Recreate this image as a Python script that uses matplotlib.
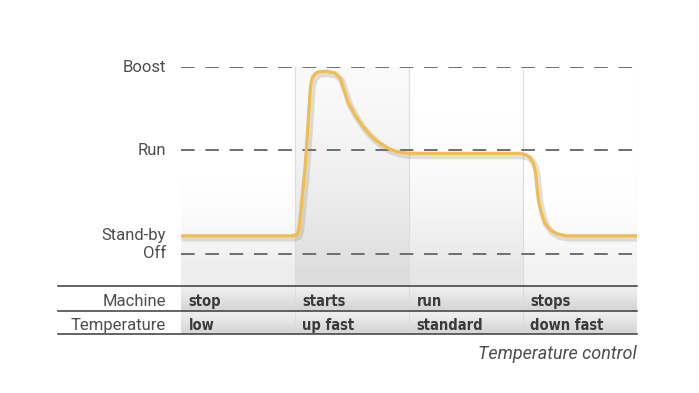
import numpy as np
import matplotlib.pyplot as plt
import matplotlib.patheffects as pe
from matplotlib import font_manager

# phases along the time axis (one column each)
phases = ["stop", "starts", "run", "stops"]
machine = ["stop", "starts", "run", "stops"]
temperature = ["low", "up fast", "standard", "down fast"]
row_labels = ["Machine", "Temperature"]

# temperature levels
level_names = ["Off", "Stand-by", "Run", "Boost"]
level_values = [0.0, 0.095, 0.554, 1.0]
dashed_levels = [0.0, 0.554, 1.0]

# curve (time in phase units, temperature in level units)
t = [0.01, 0.98, 1.02, 1.035, 1.06, 1.09, 1.11, 1.13, 1.14, 1.155, 1.18, 1.21, 1.28,
     1.35, 1.395, 1.43, 1.465, 1.525, 1.59, 1.66, 1.73, 1.81, 1.89, 1.965, 2.10,
     2.97, 3.025, 3.06, 3.09, 3.11, 3.12, 3.135, 3.16, 3.19, 3.24, 3.30, 3.38, 4.00]
temp = [0.095, 0.095, 0.105, 0.137, 0.287, 0.475, 0.66, 0.85, 0.915, 0.948, 0.966, 0.975, 0.977,
        0.968, 0.94, 0.877, 0.81, 0.743, 0.684, 0.635, 0.598, 0.566, 0.547, 0.539, 0.537,
        0.537, 0.53, 0.515, 0.485, 0.437, 0.367, 0.287, 0.217, 0.164, 0.126, 0.105, 0.095, 0.095]

W, H = 699, 393
ax_l, ax_r, ax_t, ax_b = 181, 637, 67, 334
y_top, y_off = 67, 253.5
ppu = (y_off - y_top) / 1.0
row_lines = [286, 311, 334]
text_base = [306, 330]


def py2d(py):
    return (y_off - py) / ppu


def vgrad(ax, x0, x1, y0, y1, vals):
    g = np.array(vals, dtype=float).reshape(-1, 1, 1)
    img = np.repeat(np.repeat(g, 2, axis=1), 3, axis=2)
    ax.imshow(img, extent=[x0, x1, y0, y1], origin="upper", aspect="auto",
              zorder=0, interpolation="bilinear")


names = {f.name for f in font_manager.fontManager.ttflist}
label_font = "Roboto" if "Roboto" in names else "DejaVu Sans"
label_color = "#4d4d4d"

fig = plt.figure(figsize=(W / 100, H / 100), dpi=100)
ax = fig.add_axes([ax_l / W, 1 - ax_b / H, (ax_r - ax_l) / W, (ax_b - ax_t) / H])
ylo, yhi = py2d(ax_b), py2d(ax_t)
ax.set_xlim(0, len(phases))
ax.set_ylim(ylo, yhi)
ax.axis("off")

# column backgrounds (vertical gradients, white on top)
col_shades = [(1.0, 1.0, 1.0, 1.0, 0.99, 0.965, 0.93),
              (0.98, 0.97, 0.955, 0.94, 0.92, 0.895, 0.87),
              (1.0, 1.0, 0.995, 0.98, 0.96, 0.935, 0.905),
              (1.0, 1.0, 1.0, 1.0, 0.995, 0.975, 0.95)]
y_tab = py2d(row_lines[0])
for i, shades in enumerate(col_shades):
    vgrad(ax, i, i + 1, y_tab, yhi, shades)
    for r in range(2):
        vgrad(ax, i, i + 1, py2d(row_lines[r + 1]), py2d(row_lines[r]), [0.93, 0.89, 0.845])
for i in range(1, len(phases) + 1):
    ax.plot([i, i], [ylo, yhi], color="#dcdcdc", lw=0.8, zorder=1)

# dashed levels
for lv in dashed_levels:
    ax.plot([0, len(phases)], [lv, lv], color="#6e6e6e", lw=1.4,
            dashes=(7, 5.5), zorder=2)

# level labels
for name, lv in zip(level_names, level_values):
    ax.text(-0.13, lv, name, ha="right", va="center", fontsize=12,
            color=label_color, family=label_font, clip_on=False)

# temperature curve
ax.plot(t, temp, color="#f2bd4a", lw=2.3, solid_joinstyle="round",
        solid_capstyle="round", zorder=4,
        path_effects=[pe.SimpleLineShadow(offset=(1.5, -2), shadow_color="#777777", alpha=0.22,
                                          linewidth=4.5),
                      pe.Normal()])

# table rules
x_left = (58 - ax_l) / (ax_r - ax_l) * len(phases)
for py in row_lines:
    ax.plot([x_left, len(phases)], [py2d(py)] * 2, color="#3a3a3a", lw=1.1,
            clip_on=False, zorder=3)

# table rows
for r, (lab, vals) in enumerate(zip(row_labels, [machine, temperature])):
    yb = py2d(text_base[r])
    ax.text(-0.13, yb, lab, ha="right", va="baseline", fontsize=12,
            color=label_color, family=label_font, clip_on=False)
    for i, v in enumerate(vals):
        ax.text(i + 0.065, yb, v, ha="left", va="baseline", fontsize=10.5,
                color="#3a3a3a", family="DejaVu Sans", fontstretch="condensed",
                fontweight="bold")

fig.text(ax_r / W, 1 - 359 / H, "Temperature control", ha="right", va="baseline",
         fontsize=13, style="italic", color=label_color, family=label_font)

fig.savefig("out.png", dpi=100)
